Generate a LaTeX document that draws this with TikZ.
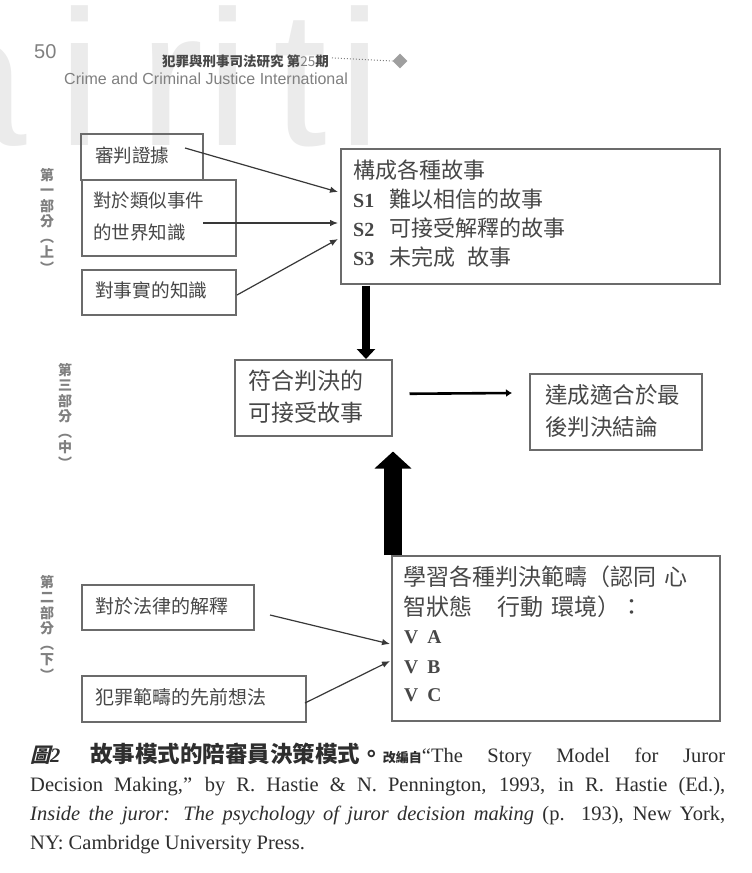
\documentclass[tikz,border=0pt]{standalone}
\usepackage{fontspec}
\setmainfont{Liberation Serif}
\newfontfamily\cjk{Noto Sans CJK TC}
\newfontfamily\cjkslant[FakeSlant=0.25]{Noto Sans CJK TC}
\newfontfamily\sanshdr{Liberation Sans}
\usetikzlibrary{arrows.meta,calc,shapes.geometric}
\definecolor{boxc}{gray}{0.42}
\definecolor{txtc}{gray}{0.28}
\definecolor{arrc}{gray}{0.22}
\definecolor{labc}{gray}{0.5}
\definecolor{wmc}{gray}{0.92}
\definecolor{hdrc}{gray}{0.5}
\definecolor{capc}{gray}{0.18}
\newcommand\fsz[1]{\fontsize{#1}{#1}\selectfont}
\tikzset{
 box/.style={draw=boxc, line width=1.5pt, anchor=north west, inner sep=0pt},
 txt/.style={anchor=west, inner sep=0pt, text=txtc},
 thinarr/.style={draw=arrc, line width=1.2pt, -{Latex[length=8pt,width=6.5pt]}},
 vlab/.style={text=labc, font=\cjk\bfseries\fontsize{14}{15.5}\selectfont, align=center, inner sep=0pt, anchor=north},
 wm/.style={text=wmc, font=\sanshdr\fsz{193}, anchor=base, inner sep=0pt},
 capline/.style={anchor=base west, inner sep=0pt, text=capc, font=\fsz{20.5}},
}
\begin{document}
\begin{tikzpicture}[x=1pt,y=-1pt]
\useasboundingbox (0,0) rectangle (752,873);
\fill[white] (0,0) rectangle (752,873);
% watermark
\begin{scope}
\clip (0,0) rectangle (752,873);
\node[wm] (w1) at (-27,145) {a};
\node[wm] (w2) at (80,145) {i};
\node[wm] (w3) at (172,145) {r};
\node[wm] (w4) at (228,145) {i};
\node[wm] (w5) at (300,145) {t};
\node[wm] (w6) at (360,145) {i};
\end{scope}
% header
\node[anchor=base west, inner sep=0pt, font=\sanshdr\fsz{20}, text=hdrc] (pg) at (34,58) {50};
\node[anchor=base west, inner sep=0pt, font=\cjk\bfseries\fsz{13.5}, text=txtc] (jt) at (162,66) {犯罪與刑事司法研究 第{\mdseries\color{hdrc}25}期};
\node[anchor=base west, inner sep=0pt, font=\sanshdr\fsz{16}, text=hdrc] (ji) at (64,84) {Crime and Criminal Justice International};
\node[diamond, fill=gray!75, minimum size=15pt, inner sep=0pt] (dia) at (400,61) {};
\draw[dotted, gray, line width=1pt] ($(jt.east)+(3,-3)$) -- (dia.west);

% vertical part labels
\node[vlab] (lab1) at (47,168) {第\\一\\部\\分\\︵\\上\\︶};
\node[vlab] (lab2) at (65,363) {第\\三\\部\\分\\︵\\中\\︶};
\node[vlab] (lab3) at (47,575) {第\\二\\部\\分\\︵\\下\\︶};

% top-left boxes
\node[box, minimum width=122pt, minimum height=46pt] (ev) at (80,133) {};
\node[txt, font=\cjk\fsz{18.5}] (evt) at (95,155) {審判證據};
\node[box, minimum width=154pt, minimum height=76pt] (wk) at (81,179) {};
\node[txt, font=\cjk\fsz{18.5}] (wkt1) at (93,200) {對於類似事件};
\node[txt, font=\cjk\fsz{18.5}] (wkt2) at (93,232) {的世界知識};
\node[box, minimum width=154pt, minimum height=45pt] (fact) at (81,269) {};
\node[txt, font=\cjk\fsz{18.7}] (factt) at (95,290) {對事實的知識};

% big story box
\node[box, minimum width=379pt, minimum height=135pt] (big) at (340,148) {};
\node[txt, font=\cjk\fsz{22}] (bt1) at (353,170) {構成各種故事};
\node[txt, font=\cjk\fsz{22}] (bt2) at (353,199) {{\rmfamily\bfseries\fsz{20}S1}\hspace{15pt}難以相信的故事};
\node[txt, font=\cjk\fsz{22}] (bt3) at (353,228) {{\rmfamily\bfseries\fsz{20}S2}\hspace{15pt}可接受解釋的故事};
\node[txt, font=\cjk\fsz{22}] (bt4) at (353,257) {{\rmfamily\bfseries\fsz{20}S3}\hspace{15pt}未完成\hspace{12pt}故事};

% middle boxes
\node[box, minimum width=157pt, minimum height=76pt] (mid) at (234,359) {};
\node[txt, font=\cjk\fsz{23}] (midt1) at (248,381) {符合判決的};
\node[txt, font=\cjk\fsz{23}] (midt2) at (248,413) {可接受故事};
\node[box, minimum width=172pt, minimum height=76pt] (dc) at (529,373) {};
\node[txt, font=\cjk\fsz{22.5}] (dct1) at (545,395) {達成適合於最};
\node[txt, font=\cjk\fsz{22.5}] (dct2) at (545,427) {後判決結論};

% bottom boxes
\node[box, minimum width=328pt, minimum height=165pt] (bot) at (391,555) {};
\node[txt, font=\cjk\fsz{23}] (bott1) at (403,577) {學習各種判決範疇（認同\hspace{8pt}心};
\node[txt, font=\cjk\fsz{23}] (bott2) at (403,607) {智狀態\hspace{25pt}行動\hspace{8pt}環境）：};
\node[txt, font=\rmfamily\bfseries\fsz{19.5}] (bott3) at (404,637) {V\hspace{9pt}A};
\node[txt, font=\rmfamily\bfseries\fsz{19.5}] (bott4) at (404,667) {V\hspace{9pt}B};
\node[txt, font=\rmfamily\bfseries\fsz{19.5}] (bott5) at (404,695) {V\hspace{9pt}C};
\node[box, minimum width=172pt, minimum height=45pt] (law) at (81,584) {};
\node[txt, font=\cjk\fsz{19}] (lawt) at (95,606) {對於法律的解釋};
\node[box, minimum width=224pt, minimum height=46pt] (prior) at (81,675) {};
\node[txt, font=\cjk\fsz{19}] (priort) at (95,697) {犯罪範疇的先前想法};

% connectors
\draw[thinarr] ($(ev.north west)+(105,15)$) -- ($(big.north west)+(-2,44)$);
\draw[thinarr] ($(wk.north west)+(122,44)$) -- ($(big.north west)+(-2,75)$);
\draw[thinarr] ($(fact.north west)+(156,26)$) -- ($(big.north west)+(-2,91)$);
\draw[thinarr] ($(law.north west)+(189,31)$) -- ($(bot.north west)+(-1,89)$);
\draw[thinarr] ($(prior.north west)+(224,28)$) -- ($(bot.north west)+(-1,106)$);
\draw[black, line width=8pt, -{Triangle[length=10pt,width=18pt]}] ($(big.south west)+(26,1)$) -- ($(mid.north west)+(132,0)$);
\draw[black, line width=18pt, -{Triangle[length=17pt,width=36pt]}] ($(bot.north west)+(2,0)$) -- ($(mid.south west)+(159,15)$);
\draw[black, line width=2.6pt, -{Latex[length=6pt,width=8pt]}] ($(mid.east)+(17,-4)$) -- ($(dc.north west)+(-17,20)$);

% caption
\node[capline] (cap1) at (30,762) {\hbox to 695pt{{\cjkslant\bfseries\fsz{20}圖}{\bfseries\itshape 2}\hspace{30pt}{\cjk\bfseries\fsz{22.5}故事模式的陪審員決策模式。}{\cjk\bfseries\fsz{13}改編自}“The Story Model for Juror}};
\node[capline] (cap2) at (30,791) {\hbox to 695pt{Decision Making,” by R. Hastie \& N. Pennington, 1993, in R. Hastie (Ed.),}};
\node[capline] (cap3) at (30,820) {\hbox to 695pt{{\itshape Inside the juror: The psychology of juror decision making} (p. 193), New York,}};
\node[capline] (cap4) at (30,849) {NY: Cambridge University Press.};
\end{tikzpicture}
\end{document}
